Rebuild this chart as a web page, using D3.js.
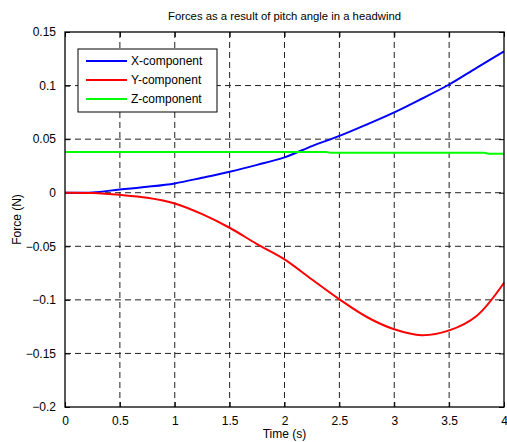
<!DOCTYPE html>
<html>
<head>
<meta charset="utf-8">
<script src="https://cdn.jsdelivr.net/npm/d3@7"></script>
<style>
  body { margin: 0; background: #fff; }
  text { font-family: "Liberation Sans", Arial, sans-serif; }
</style>
</head>
<body>
<script>
'use strict'
const time = [0, 0.25, 0.5, 0.75, 1, 1.25, 1.5, 1.75, 2, 2.25, 2.5, 2.75, 3, 3.25, 3.5, 3.75, 4];
const xComponent = [0, 0.0003, 0.003, 0.0055, 0.0087, 0.014, 0.0196, 0.026, 0.033, 0.0435, 0.053, 0.0637, 0.075, 0.0877, 0.101, 0.1166, 0.132];
const yComponent = [0, -0.0003, -0.002, -0.0047, -0.010, -0.020, -0.0327, -0.048, -0.0622, -0.081, -0.0995, -0.116, -0.1275, -0.133, -0.1285, -0.115, -0.084];
const zTime = [0, 2.38, 2.42, 3.82, 3.86, 4];
const zComponent = [0.0381, 0.0381, 0.0372, 0.0372, 0.0363, 0.0363];
const xTicks = [0, 0.5, 1, 1.5, 2, 2.5, 3, 3.5, 4];
const yTicks = [-0.2, -0.15, -0.1, -0.05, 0, 0.05, 0.1, 0.15];
const seriesNames = ["X-component", "Y-component", "Z-component"];
const seriesColors = ["#0000ff", "#ff0000", "#00ff00"];

const W = 507, H = 442;
const pLeft = 65, pRight = 504, pTop = 32, pBottom = 407;

const svg = d3.select("body").append("svg")
    .attr("width", W)
    .attr("height", H);

const x = d3.scaleLinear().domain([0, 4]).range([pLeft, pRight]);
const y = d3.scaleLinear().domain([-0.2, 0.15]).range([pBottom, pTop]);

// grid
svg.append("g").selectAll("line")
    .data(xTicks.slice(1, -1))
    .enter().append("line")
    .attr("x1", d => x(d)).attr("x2", d => x(d))
    .attr("y1", pTop).attr("y2", pBottom)
    .attr("stroke", "#222").attr("stroke-dasharray", "6,4").attr("stroke-width", 1);
svg.append("g").selectAll("line")
    .data(yTicks.slice(1, -1))
    .enter().append("line")
    .attr("y1", d => y(d)).attr("y2", d => y(d))
    .attr("x1", pLeft).attr("x2", pRight)
    .attr("stroke", "#222").attr("stroke-dasharray", "6,4").attr("stroke-width", 1);

// axes
const fmt = d => d3.format("")(+d.toFixed(2));
svg.append("g")
    .attr("transform", "translate(0," + pBottom + ")")
    .call(d3.axisBottom(x).tickValues(xTicks).tickFormat(fmt).tickSizeInner(-5).tickSizeOuter(0).tickPadding(9))
    .call(g => g.select(".domain").remove())
    .call(g => g.selectAll("text").attr("font-size", 12).attr("fill", "#000"));
svg.append("g")
    .attr("transform", "translate(0," + pTop + ")")
    .call(d3.axisTop(x).tickValues(xTicks).tickFormat("").tickSizeInner(-5).tickSizeOuter(0))
    .call(g => g.select(".domain").remove());
svg.append("g")
    .attr("transform", "translate(" + pLeft + ",0)")
    .call(d3.axisLeft(y).tickValues(yTicks).tickFormat(fmt).tickSizeInner(-5).tickSizeOuter(0).tickPadding(9))
    .call(g => g.select(".domain").remove())
    .call(g => g.selectAll("text").attr("font-size", 12).attr("fill", "#000"));
svg.append("g")
    .attr("transform", "translate(" + pRight + ",0)")
    .call(d3.axisRight(y).tickValues(yTicks).tickFormat("").tickSizeInner(-5).tickSizeOuter(0))
    .call(g => g.select(".domain").remove());

// lines
const line = d3.line().x(d => x(d[0])).y(d => y(d[1])).curve(d3.curveCatmullRom);
const zLine = d3.line().x(d => x(d[0])).y(d => y(d[1]));
const series = [
    d3.zip(time, xComponent),
    d3.zip(time, yComponent),
    d3.zip(zTime, zComponent)
];
svg.append("g").selectAll("path")
    .data(series)
    .enter().append("path")
    .attr("d", (d, i) => i === 2 ? zLine(d) : line(d))
    .attr("fill", "none")
    .attr("stroke", (d, i) => seriesColors[i])
    .attr("stroke-width", 2);

// frame
svg.append("rect")
    .attr("x", pLeft).attr("y", pTop)
    .attr("width", pRight - pLeft).attr("height", pBottom - pTop)
    .attr("fill", "none").attr("stroke", "#000").attr("stroke-width", 1.3);

// legend
const lg = svg.append("g").attr("transform", "translate(78,49)");
lg.append("rect")
    .attr("width", 139).attr("height", 63)
    .attr("fill", "#fff").attr("stroke", "#000").attr("stroke-width", 1);
const rows = lg.selectAll("g.row")
    .data(seriesNames)
    .enter().append("g")
    .attr("transform", (d, i) => "translate(0," + (12 + i * 19) + ")");
rows.append("line")
    .attr("x1", 8).attr("x2", 49)
    .attr("stroke", (d, i) => seriesColors[i]).attr("stroke-width", 2);
rows.append("text")
    .attr("x", 53).attr("y", 4)
    .attr("font-size", 12)
    .text(d => d);

// titles
svg.append("text")
    .attr("x", (pLeft + pRight) / 2).attr("y", 20)
    .attr("text-anchor", "middle").attr("font-size", 11.3)
    .text("Forces as a result of pitch angle in a headwind");
svg.append("text")
    .attr("x", (pLeft + pRight) / 2).attr("y", 438)
    .attr("text-anchor", "middle").attr("font-size", 12)
    .text("Time (s)");
svg.append("text")
    .attr("transform", "translate(21," + ((pTop + pBottom) / 2) + ") rotate(-90)")
    .attr("text-anchor", "middle").attr("font-size", 12)
    .text("Force (N)");
</script>
</body>
</html>
